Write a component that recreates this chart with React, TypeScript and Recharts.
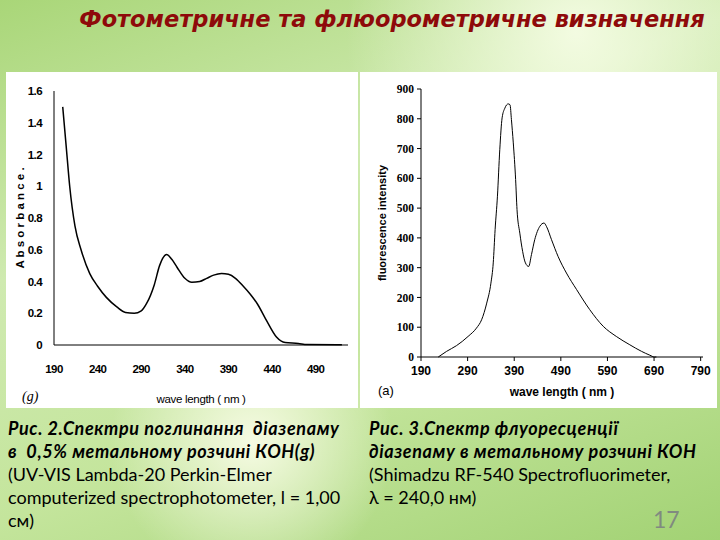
import { LineChart, Line, XAxis, YAxis } from 'recharts';

// Рис. 2 — absorption spectrum (nm, absorbance)
const absWave = [200, 204, 208, 214, 221, 231, 240, 250, 262, 272, 282, 290, 296, 305, 311, 319, 325, 331, 340, 348, 357, 365, 373, 382, 390, 398, 407, 415, 423, 434, 445, 455, 470, 480, 520];
const absValue = [1.5, 1.25, 1.0, 0.75, 0.6, 0.45, 0.37, 0.3, 0.24, 0.205, 0.2, 0.215, 0.26, 0.38, 0.5, 0.57, 0.54, 0.49, 0.42, 0.395, 0.4, 0.42, 0.44, 0.45, 0.445, 0.42, 0.37, 0.32, 0.26, 0.15, 0.05, 0.015, 0.01, 0.003, 0.002];
const absYTicks = [0, 0.2, 0.4, 0.6, 0.8, 1, 1.2, 1.4, 1.6];
const absXTicks = [190, 240, 290, 340, 390, 440, 490];

// Рис. 3 — fluorescence spectrum (nm, intensity)
const flWave = [227, 245, 266, 291, 309, 320, 331, 340, 345, 349, 354, 359, 364, 370, 377, 381, 384, 388, 393, 396, 402, 408, 414, 421, 427, 434, 445, 454, 459, 470, 484, 502, 524, 552, 581, 609, 638, 663, 681, 691, 695];
const flValue = [0, 19, 38, 69, 97, 125, 181, 248, 316, 428, 540, 696, 803, 836, 850, 847, 797, 719, 596, 495, 416, 355, 316, 304, 344, 394, 439, 450, 439, 394, 338, 282, 226, 159, 103, 69, 41, 19, 6, 0, 0];
const flYTicks = [0, 100, 200, 300, 400, 500, 600, 700, 800, 900];
const flXTicks = [190, 290, 390, 490, 590, 690, 790];

const absData = absWave.map((w, i) => ({ w, a: absValue[i] }));
const flData = flWave.map((w, i) => ({ w, f: flValue[i] }));

const sans = '"Liberation Sans", Arial, sans-serif';
const serif = '"Liberation Serif", "Times New Roman", serif';
const capFont = 'Lato, "Open Sans", sans-serif';

const boldLine = { fontWeight: 700, fontStyle: 'italic' as const, letterSpacing: 0.6 };

export default function App() {
  return (
    <div
      style={{
        position: 'absolute', left: 0, top: 0, width: 720, height: 540, overflow: 'hidden',
        background:
          'radial-gradient(circle at 35% 82%, rgba(255,255,240,0.85) 0%, rgba(255,255,240,0) 22%),' +
          'radial-gradient(circle at 80% 6%, rgba(250,255,235,0.85) 0%, rgba(250,255,235,0) 30%),' +
          'linear-gradient(160deg, #a9d678 0%, #cfeab0 35%, #c4e59c 65%, #a2d274 100%)',
      }}
    >
      <div
        style={{
          position: 'absolute', left: 0, width: 720, top: 6, textAlign: 'center', paddingLeft: 64, boxSizing: 'border-box',
          fontFamily: '"DejaVu Sans", sans-serif', fontWeight: 700, fontStyle: 'italic', fontSize: 22.5, color: '#8e0a0a',
        }}
      >
        Фотометричне та флюорометричне визначення
      </div>

      {/* left panel */}
      <div style={{ position: 'absolute', left: 6, top: 72, width: 352, height: 336, background: '#fff' }}>
        <LineChart width={352} height={336} data={absData} margin={{ top: 19, right: 10, left: 0, bottom: 0 }}>
          <XAxis
            dataKey="w" type="number" domain={[190, 527]} ticks={absXTicks} allowDataOverflow
            height={63} tickLine={false} stroke="#000" tickMargin={14}
            tick={{ fill: '#000', fontSize: 11.5, fontFamily: sans, fontWeight: 700, letterSpacing: -0.6 }}
            label={{ value: 'wave length  ( nm )', position: 'insideBottom', offset: 5, fill: '#000', fontSize: 11.5, fontFamily: sans, letterSpacing: -0.3 }}
          />
          <YAxis
            type="number" domain={[0, 1.6]} ticks={absYTicks} width={48}
            tickLine={false} stroke="#000" tickMargin={6}
            tick={{ fill: '#000', fontSize: 11.5, fontFamily: sans, fontWeight: 700, letterSpacing: -0.6 }}
            label={{ value: 'A b s o r b a n c e .', angle: -90, position: 'insideLeft', offset: 14, fill: '#000', fontSize: 11.5, fontFamily: sans, fontWeight: 700, style: { textAnchor: 'middle' } }}
          />
          <Line type="monotone" dataKey="a" stroke="#000" strokeWidth={1.5} dot={false} isAnimationActive={false} />
        </LineChart>
        <div style={{ position: 'absolute', left: 16, top: 317, fontFamily: serif, fontStyle: 'italic', fontSize: 14 }}>(g)</div>
      </div>

      {/* right panel */}
      <div style={{ position: 'absolute', left: 360, top: 72, width: 357, height: 336, background: '#fff' }}>
        <LineChart width={357} height={336} data={flData} margin={{ top: 17, right: 14, left: 0, bottom: 0 }}>
          <XAxis
            dataKey="w" type="number" domain={[190, 795]} ticks={flXTicks}
            height={51} tickSize={4} stroke="#000" tickMargin={5}
            tick={{ fill: '#000', fontSize: 12, fontFamily: sans, fontWeight: 700 }}
            label={{ value: 'wave length ( nm )', position: 'insideBottom', offset: 12, fill: '#000', fontSize: 12, fontFamily: sans, fontWeight: 700 }}
          />
          <XAxis xAxisId="top" orientation="top" dataKey="w" type="number" domain={[190, 795]} height={0} tick={false} tickLine={false} stroke="#000" />
          <YAxis
            type="number" domain={[0, 900]} ticks={flYTicks} width={61}
            tickSize={4} stroke="#000" tickMargin={3}
            tick={{ fill: '#000', fontSize: 11.5, fontFamily: serif, fontWeight: 700 }}
            label={{ value: 'fluorescence intensity', angle: -90, position: 'insideLeft', offset: 22, fill: '#000', fontSize: 11, fontFamily: sans, fontWeight: 700, style: { textAnchor: 'middle' } }}
          />
          <YAxis yAxisId="right" orientation="right" domain={[0, 900]} width={0} tick={false} tickLine={false} stroke="#000" />
          <Line type="monotone" dataKey="f" stroke="#000" strokeWidth={1} dot={false} isAnimationActive={false} />
        </LineChart>
        <div style={{ position: 'absolute', left: 18, top: 311, fontFamily: sans, fontSize: 13 }}>(a)</div>
      </div>

      {/* captions */}
      <div style={{ position: 'absolute', left: 8, top: 417, width: 355, fontFamily: capFont, fontSize: 18, lineHeight: '23px', color: '#000', whiteSpace: 'nowrap' }}>
        <div style={boldLine}>Рис. 2.Спектри поглинання&nbsp; діазепаму</div>
        <div style={boldLine}>в&nbsp; 0,5% метальному розчині КОН(g)</div>
        <div>(UV-VIS Lambda-20 Perkin-Elmer</div>
        <div>computerized spectrophotometer, l = 1,00</div>
        <div>см)</div>
      </div>
      <div style={{ position: 'absolute', left: 369, top: 417, width: 350, fontFamily: capFont, fontSize: 18, lineHeight: '23px', color: '#000', whiteSpace: 'nowrap' }}>
        <div style={boldLine}>Рис. 3.Спектр флуоресценції</div>
        <div style={boldLine}>діазепаму в метальному розчині КОН</div>
        <div>(Shimadzu RF-540 Spectrofluorimeter,</div>
        <div>λ = 240,0 нм)</div>
      </div>
      <div style={{ position: 'absolute', left: 653, top: 505, fontFamily: capFont, fontSize: 23, color: '#808a80' }}>17</div>
    </div>
  );
}
